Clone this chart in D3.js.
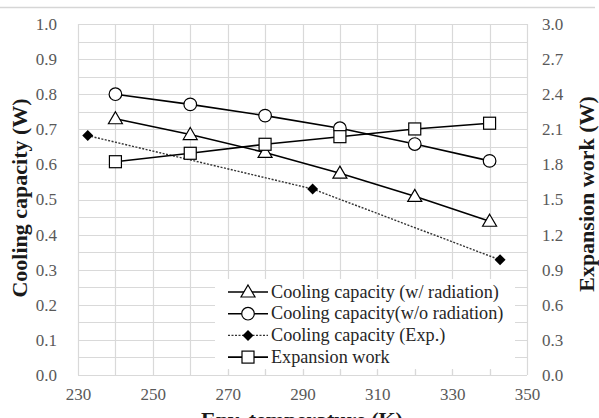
<!DOCTYPE html>
<html>
<head>
<meta charset="utf-8">
<script src="https://cdn.jsdelivr.net/npm/d3@7"></script>
<style>
  body { margin: 0; background: #fff; }
  svg { display: block; font-family: 'Liberation Serif', 'Times New Roman', serif; }
</style>
</head>
<body>
<svg id="chart" width="599" height="418"></svg>
<script>
const temps = [240, 260, 280, 300, 320, 340]
const coolingWithRad = [0.73, 0.685, 0.634, 0.575, 0.509, 0.438]
const coolingWithoutRad = [0.80, 0.771, 0.739, 0.703, 0.658, 0.610]
const expTemps = [232.6, 292.7, 342.8]
const coolingExp = [0.682, 0.53, 0.328]
const expansionWork = [1.823, 1.895, 1.972, 2.037, 2.103, 2.152]

const xTicks = [230, 250, 270, 290, 310, 330, 350]
const yLeftTicks = d3.range(0, 1.0001, 0.1)
const yRightTicks = d3.range(0, 3.0001, 0.3)

const legendLabels = [
  'Cooling capacity (w/ radiation)',
  'Cooling capacity(w/o radiation)',
  'Cooling capacity (Exp.)',
  'Expansion work'
]

const serif = "'Liberation Serif', 'Times New Roman', serif"
const svg = d3.select('#chart')
const margin = { top: 24, right: 72, bottom: 43, left: 78 }
const width = 599
const height = 418

// thin frame line at the very top
svg.append('line')
  .attr('x1', 0).attr('x2', 595).attr('y1', 7.5).attr('y2', 7.5)
  .attr('stroke', '#d6d6d6').attr('stroke-width', 1.5)

const x = d3.scaleLinear().domain([230, 350]).range([margin.left, width - margin.right])
const y = d3.scaleLinear().domain([0, 1]).range([height - margin.bottom, margin.top])
const y2 = d3.scaleLinear().domain([0, 3]).range([height - margin.bottom, margin.top])

// gridlines
const grid = svg.append('g')
grid.selectAll('line.h')
  .data(d3.range(0, 1.0001, 0.05))
  .enter().append('line')
  .attr('x1', x(230)).attr('x2', x(350))
  .attr('y1', d => Math.round(y(d)) + 0.5).attr('y2', d => Math.round(y(d)) + 0.5)
  .attr('stroke', '#d9d9d9').attr('stroke-width', 1.2)
grid.selectAll('line.v')
  .data(d3.range(230, 350.001, 10))
  .enter().append('line')
  .attr('y1', y(0)).attr('y2', y(1))
  .attr('x1', d => Math.round(x(d)) + 0.5).attr('x2', d => Math.round(x(d)) + 0.5)
  .attr('stroke', '#d9d9d9').attr('stroke-width', 1.2)

// axes
const axisFont = g => g
  .attr('font-family', serif)
  .attr('font-size', 17)
  .selectAll('text')
  .style('font-family', serif)
  .attr('fill', '#595959')

svg.append('g')
  .attr('transform', `translate(${x(230) - 13},0)`)
  .call(d3.axisLeft(y).tickValues(yLeftTicks).tickFormat(d3.format('.1f')).tickSize(0).tickPadding(8))
  .call(g => g.select('.domain').remove())
  .call(axisFont)

svg.append('g')
  .attr('transform', `translate(${x(350) + 7},0)`)
  .call(d3.axisRight(y2).tickValues(yRightTicks).tickFormat(d3.format('.1f')).tickSize(0).tickPadding(8))
  .call(g => g.select('.domain').remove())
  .call(axisFont)

svg.append('g')
  .attr('transform', `translate(0,${y(0) + 9})`)
  .call(d3.axisBottom(x).tickValues(xTicks).tickFormat(d3.format('d')).tickSize(0).tickPadding(4))
  .call(g => g.select('.domain').remove())
  .call(axisFont)

// axis titles
const title = (tx, ty, rot, label) => svg.append('text')
  .attr('transform', `translate(${tx},${ty}) rotate(${rot})`)
  .attr('text-anchor', 'middle')
  .attr('font-weight', 'bold').attr('font-size', 22).attr('fill', '#1a1a1a')
  .text(label)
title(27, 198, -90, 'Cooling capacity (W)')
title(594, 194, -90, 'Expansion work (W)')
title(302, 427, 0, 'Env. temperature (K)')

// series
const line = d3.line()
const seriesGroup = svg.append('g')

const drawMarker = (g, shape, cx, cy) => {
  if (shape === 'circle') {
    g.append('circle').attr('cx', cx).attr('cy', cy).attr('r', 6.3)
      .attr('fill', '#fff').attr('stroke', '#000').attr('stroke-width', 1.2)
  }
  else if (shape === 'triangle') {
    g.append('path').attr('d', `M${cx},${cy - 7} L${cx + 7},${cy + 5} L${cx - 7},${cy + 5}Z`)
      .attr('fill', '#fff').attr('stroke', '#000').attr('stroke-width', 1.2)
  }
  else if (shape === 'square') {
    g.append('rect').attr('x', cx - 6).attr('y', cy - 6).attr('width', 12).attr('height', 12)
      .attr('fill', '#fff').attr('stroke', '#000').attr('stroke-width', 1.2)
  }
  else {
    g.append('path').attr('d', `M${cx},${cy - 5.5} L${cx + 5.5},${cy} L${cx},${cy + 5.5} L${cx - 5.5},${cy}Z`)
      .attr('fill', '#000')
  }
}

const series = [
  { xs: temps, ys: coolingWithRad, scale: y, shape: 'triangle', dash: null },
  { xs: temps, ys: coolingWithoutRad, scale: y, shape: 'circle', dash: null },
  { xs: expTemps, ys: coolingExp, scale: y, shape: 'diamond', dash: '2,1.5' },
  { xs: temps, ys: expansionWork, scale: y2, shape: 'square', dash: null }
]

series.forEach(s => {
  const pts = s.xs.map((t, i) => [x(t), s.scale(s.ys[i])])
  seriesGroup.append('path')
    .attr('d', line(pts))
    .attr('fill', 'none')
    .attr('stroke', s.dash ? '#333' : '#000')
    .attr('stroke-width', s.dash ? 1.4 : 1.6)
    .attr('stroke-dasharray', s.dash)
})
series.forEach(s => {
  s.xs.forEach((t, i) => drawMarker(seriesGroup, s.shape, x(t), s.scale(s.ys[i])))
})

// legend
const legend = svg.append('g')
legend.append('rect')
  .attr('x', 215).attr('y', 279).attr('width', 300).attr('height', 90)
  .attr('fill', '#fff')
series.forEach((s, i) => {
  const ly = 292 + i * 21.7
  const row = legend.append('g')
  row.append('line')
    .attr('x1', 228).attr('x2', 268).attr('y1', ly).attr('y2', ly)
    .attr('stroke', s.dash ? '#333' : '#000')
    .attr('stroke-width', s.dash ? 1.4 : 1.6)
    .attr('stroke-dasharray', s.dash)
  drawMarker(row, s.shape, 248, ly)
  row.append('text')
    .attr('x', 271).attr('y', ly + 5.5)
    .attr('font-size', 18.2).attr('fill', '#262626')
    .text(legendLabels[i])
})

// small axis ticks visible under the legend area
svg.append('g').selectAll('line')
  .data(d3.range(270, 340.001, 10))
  .enter().append('line')
  .attr('x1', d => Math.round(x(d)) + 0.5).attr('x2', d => Math.round(x(d)) + 0.5)
  .attr('y1', y(0) - 5).attr('y2', y(0))
  .attr('stroke', '#d9d9d9').attr('stroke-width', 1.2)
svg.append('line')
  .attr('x1', x(230)).attr('x2', x(350)).attr('y1', Math.round(y(0)) + 0.5).attr('y2', Math.round(y(0)) + 0.5)
  .attr('stroke', '#d9d9d9').attr('stroke-width', 1.2)
</script>
</body>
</html>
